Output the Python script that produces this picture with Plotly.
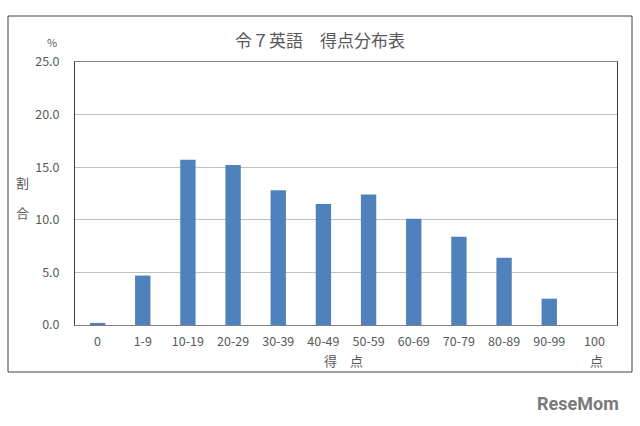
import plotly.graph_objects as go

categories = ["0", "1-9", "10-19", "20-29", "30-39", "40-49", "50-59",
              "60-69", "70-79", "80-89", "90-99", "100"]
values = [0.2, 4.7, 15.7, 15.2, 12.8, 11.5, 12.4, 10.1, 8.4, 6.4, 2.5, 0.0]
y_ticks = [0, 5, 10, 15, 20, 25]
y_tick_labels = ["0.0", "5.0", "10.0", "15.0", "20.0", "25.0"]

FONT = "Noto Sans CJK JP"
TXT = "#595959"

fig = go.Figure()
fig.add_trace(go.Bar(x=categories, y=values, marker=dict(color="#4f81bd", line=dict(width=0)),
                     width=0.34))

W, H = 640, 426
L, R, T, B = 75, 23, 62, 101
pw, ph = W - L - R, H - T - B

def px(x):
    return (x - L) / pw

def py(y):
    return (H - B - y) / ph

def ann(text, x, y, size, color=TXT, family=None):
    f = dict(size=size, color=color)
    if family:
        f["family"] = family
    return dict(text=text, x=px(x), y=py(y), xref="paper", yref="paper",
                xanchor="center", yanchor="middle", showarrow=False, font=f)

fig.update_layout(
    width=W, height=H,
    margin=dict(l=L, r=R, t=T, b=B),
    paper_bgcolor="white", plot_bgcolor="white",
    showlegend=False,
    font=dict(family=FONT, color=TXT, size=12),
    xaxis=dict(type="category", showline=True, linecolor="#7f7f7f", linewidth=1,
               mirror=True, ticks="outside", ticklen=5, tickcolor="rgba(0,0,0,0)",
               tickfont=dict(size=12.5, color=TXT),
               showgrid=False, range=[-0.5, 11.5]),
    yaxis=dict(range=[0, 25], tickvals=y_ticks, ticktext=y_tick_labels,
               showline=True, linecolor="#404040", linewidth=1, mirror=True,
               showgrid=True, gridcolor="#bfbfbf", gridwidth=1, zeroline=False,
               ticks="outside", ticklen=12, tickcolor="rgba(0,0,0,0)",
               tickfont=dict(size=12.5, color=TXT)),
    shapes=[dict(type="rect", xref="paper", yref="paper",
                 x0=px(8), x1=px(632), y0=py(372), y1=py(16),
                 line=dict(color="#404040", width=1), fillcolor="rgba(0,0,0,0)",
                 layer="below")],
    annotations=[
        ann("令７英語　得点分布表", 320, 40, 17),
        ann("%", 52, 42, 11),
        ann("割", 22, 182, 13),
        ann("合", 22, 212, 13),
        ann("得　点", 343, 360, 13),
        ann("点", 596, 360, 13),
        ann("<b>ReseMom</b>", 578, 403, 18, color="#7a7a7a", family="Roboto"),
    ],
)

fig.write_html("out.html", config={"displayModeBar": False},
               post_script="document.body.style.margin='0';document.body.style.padding='0';")
